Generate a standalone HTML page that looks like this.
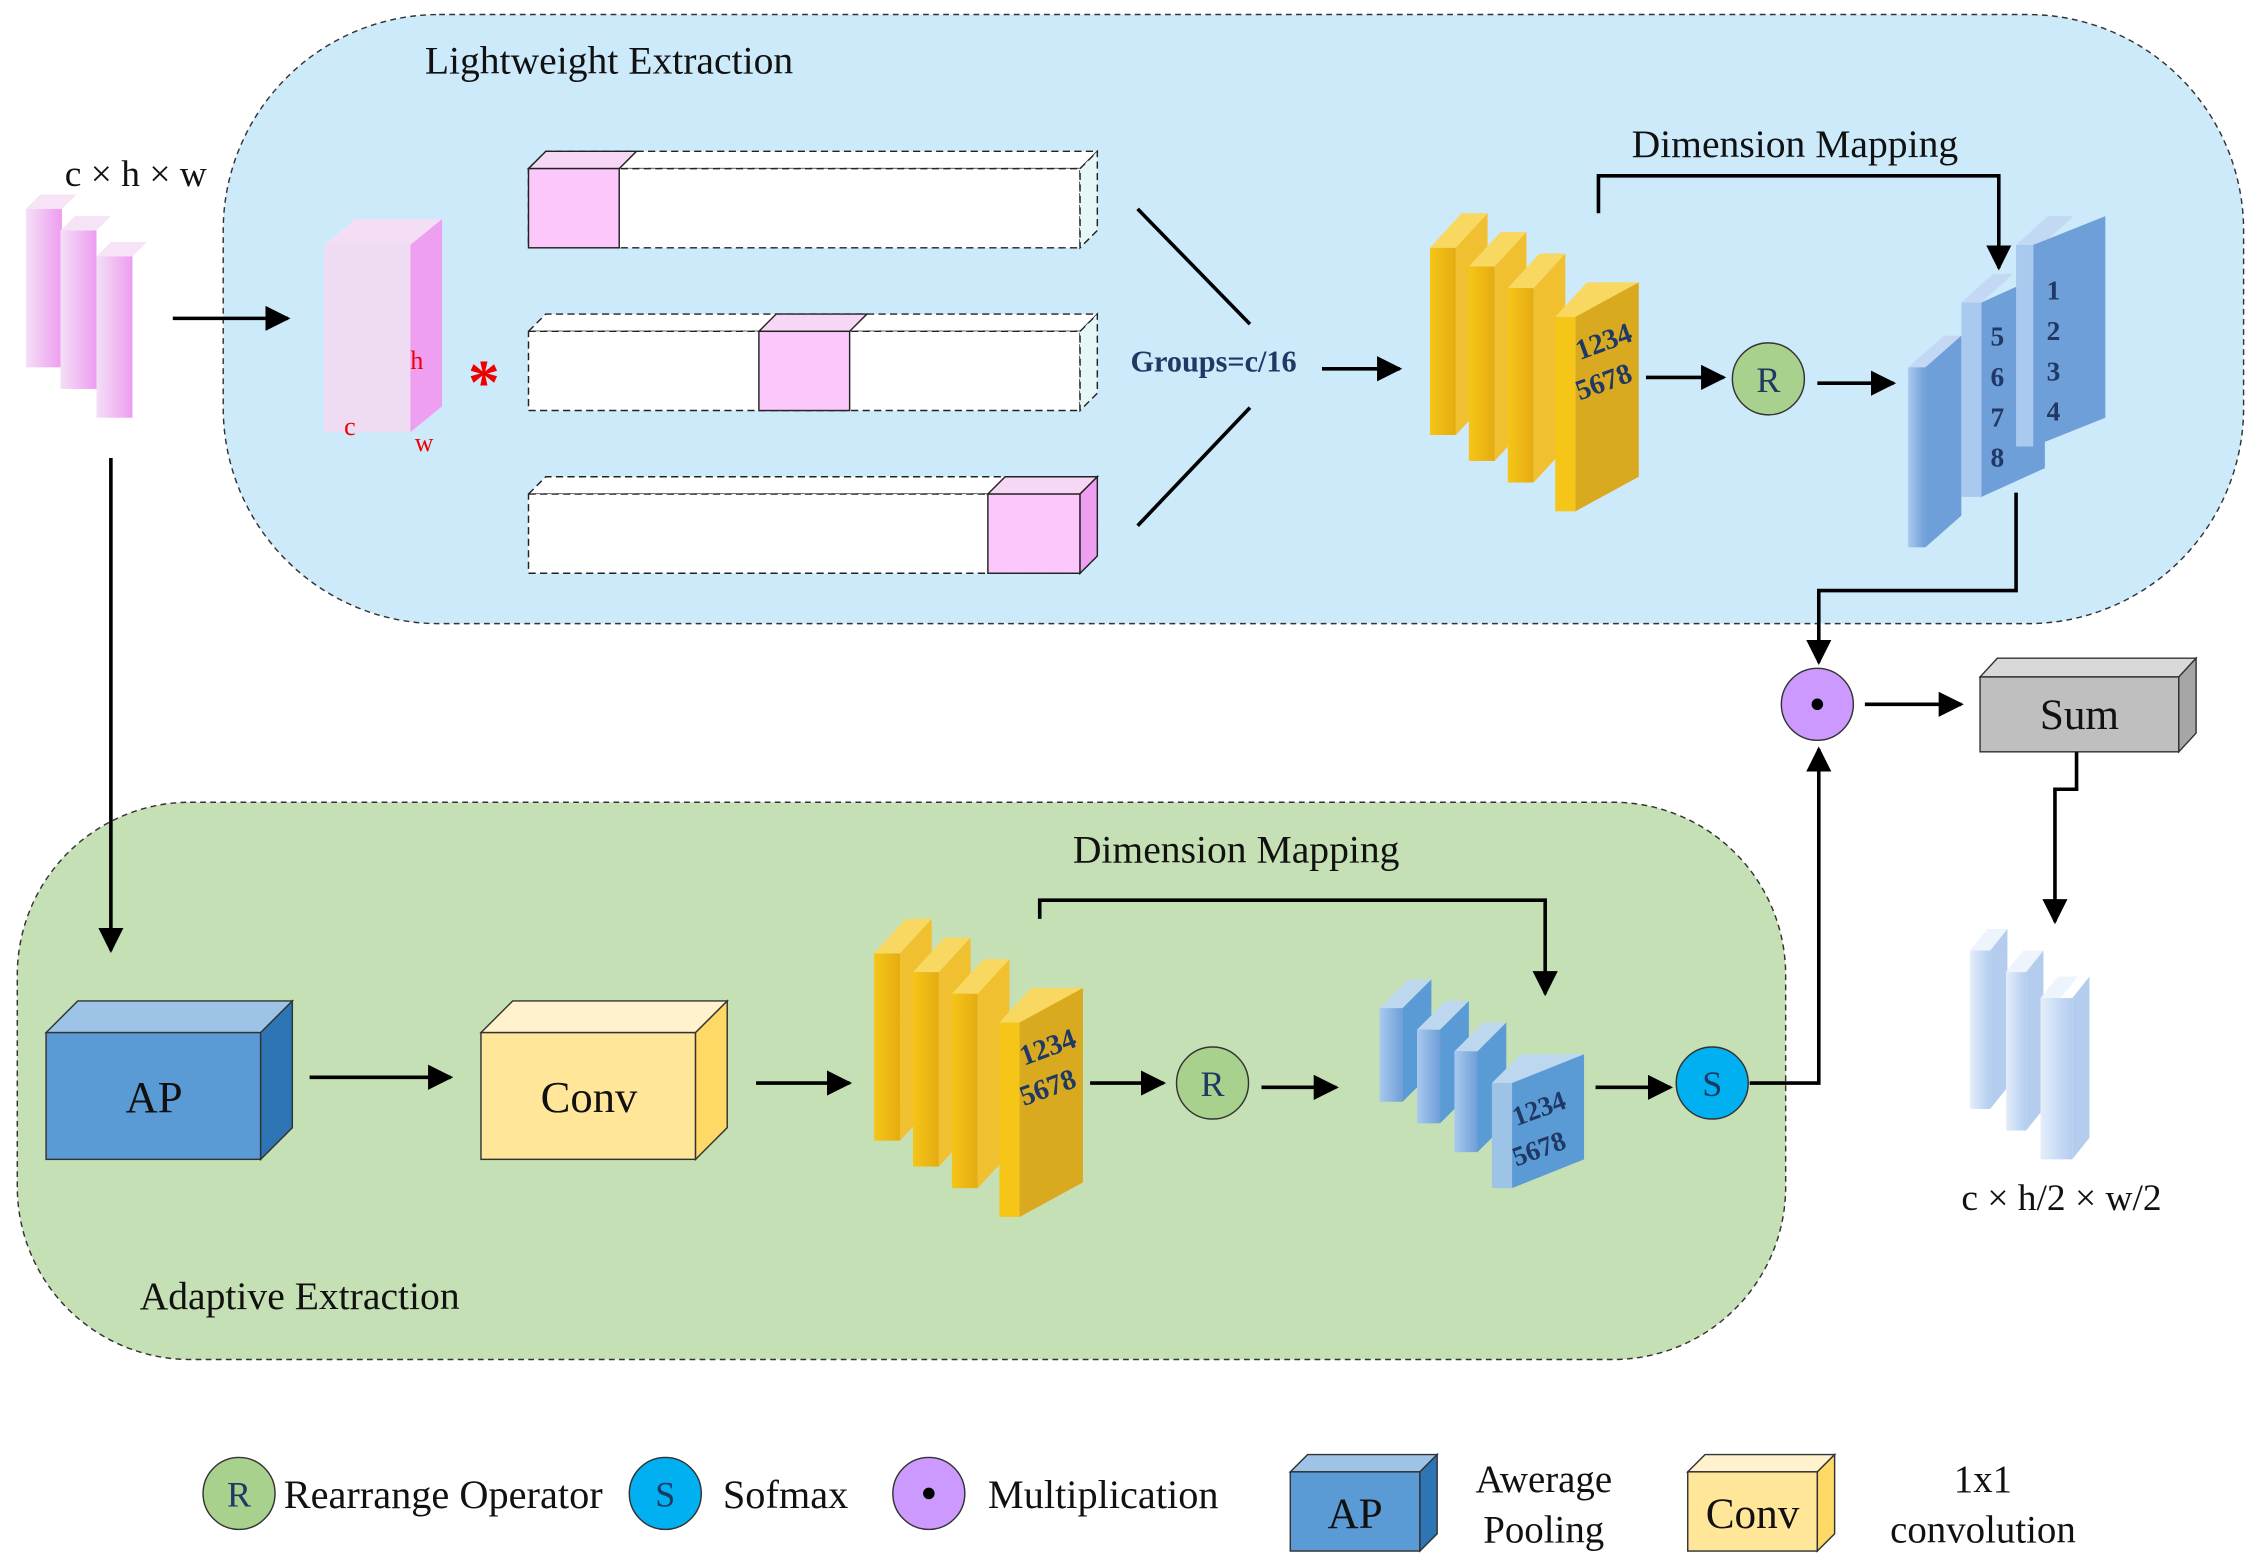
<!DOCTYPE html>
<html><head><meta charset="utf-8"><style>html,body{margin:0;padding:0;background:#fff}svg{display:block}</style></head>
<body>
<svg width="2258" height="1567" viewBox="0 0 1568 1088" xmlns="http://www.w3.org/2000/svg" font-family="Liberation Serif, serif">
<defs>
<marker id="a" viewBox="0 0 10 10" refX="9" refY="5" markerWidth="7" markerHeight="7" orient="auto-start-reverse"><path d="M0,0 L10,5 L0,10 z" fill="#000"/></marker>
<linearGradient id="pk" x1="0" x2="1"><stop offset="0" stop-color="#f3e0f6"/><stop offset="1" stop-color="#ee9cf0"/></linearGradient>
<linearGradient id="yl" x1="0" x2="1"><stop offset="0" stop-color="#f5c518"/><stop offset="1" stop-color="#e5ac10"/></linearGradient>
<linearGradient id="bl" x1="0" x2="1"><stop offset="0" stop-color="#a9c9ef"/><stop offset="1" stop-color="#6f9fd8"/></linearGradient>
<linearGradient id="lb" x1="0" x2="1"><stop offset="0" stop-color="#e4eefb"/><stop offset="1" stop-color="#b4cdef"/></linearGradient>
</defs>
<rect x="155" y="10" width="1403" height="423" rx="150" fill="#cdeafb" stroke="#333" stroke-dasharray="4,3"/>
<rect x="12" y="557" width="1228" height="387" rx="120" fill="#c5e0b4" stroke="#333" stroke-dasharray="4,3"/>
<g font-size="27.5" fill="#111">
<text x="295" y="51">Lightweight Extraction</text>
<text x="1133" y="109">Dimension Mapping</text>
<text x="745" y="599">Dimension Mapping</text>
<text x="97" y="909">Adaptive Extraction</text>
</g>
<g font-size="26" fill="#111">
<text x="45" y="129">c × h × w</text>
<text x="1362" y="840">c × h/2 × w/2</text>
</g>
<g>
<g><path d="M18,145 l10,-10 h25 l-10,10z" fill="#f6e3f6"/><rect x="18" y="145" width="25" height="110" fill="url(#pk)"/></g>
<g><path d="M42,160 l10,-10 h25 l-10,10z" fill="#f6e3f6"/><rect x="42" y="160" width="25" height="110" fill="url(#pk)"/></g>
<g><path d="M67,178 l10,-10 h25 l-10,10z" fill="#f6e3f6"/><rect x="67" y="178" width="25" height="112" fill="url(#pk)"/></g>
</g>
<line x1="120" y1="221" x2="200" y2="221" stroke="#000" stroke-width="2.5" marker-end="url(#a)"/>
<path d="M225,170 l22,-18 h60 l-22,18z" fill="#f3def5"/>
<rect x="225" y="170" width="60" height="130" fill="#efdcf3"/>
<path d="M285,170 l22,-18 v130 l-22,18z" fill="#ee9ff0"/>
<text x="285" y="256" font-size="18" fill="#e00">h</text>
<text x="239" y="302" font-size="18" fill="#e00">c</text>
<text x="288" y="313" font-size="18" fill="#e00">w</text>
<text x="325" y="280" font-size="44" fill="#e00" font-weight="bold">*</text>
<g stroke="#222" stroke-dasharray="5,3" fill="#fff">
<path d="M367,117 l12,-12 h383 l-12,12z"/><rect x="367" y="117" width="383" height="55"/><path d="M750,117 l12,-12 v55 l-12,12z" fill="#e6f7f7"/>
<path d="M367,230 l12,-12 h383 l-12,12z"/><rect x="367" y="230" width="383" height="55"/><path d="M750,230 l12,-12 v55 l-12,12z" fill="#e6f7f7"/>
<path d="M367,343 l12,-12 h383 l-12,12z"/><rect x="367" y="343" width="383" height="55"/><path d="M750,343 l12,-12 v55 l-12,12z" fill="#e6f7f7"/>
</g>
<g stroke="#222">
<path d="M367,117 l12,-12 h63 l-12,12z" fill="#f6d8f6"/><rect x="367" y="117" width="63" height="55" fill="#fcc8fc"/>
<path d="M527,230 l12,-12 h63 l-12,12z" fill="#f6d8f6"/><rect x="527" y="230" width="63" height="55" fill="#fcc8fc"/>
<path d="M686,343 l12,-12 h64 l-12,12z" fill="#f6d8f6"/><rect x="686" y="343" width="64" height="55" fill="#fcc8fc"/><path d="M750,343 l12,-12 v55 l-12,12z" fill="#ee9ff0"/>
</g>
<line x1="790" y1="145" x2="868" y2="225" stroke="#000" stroke-width="2.5"/>
<line x1="790" y1="365" x2="868" y2="283" stroke="#000" stroke-width="2.5"/>
<text x="785" y="258" font-size="21" font-weight="bold" fill="#1f3864">Groups=c/16</text>
<line x1="918" y1="256" x2="972" y2="256" stroke="#000" stroke-width="2.5" marker-end="url(#a)"/>
<g>
<g><path d="M993,172 l22,-24 h18 l-22,24z" fill="#f8d860"/><rect x="993" y="172" width="18" height="130" fill="url(#yl)"/><path d="M1011,172 l22,-24 v130 l-22,24z" fill="#f0c030"/></g>
<g><path d="M1020,185 l22,-24 h18 l-22,24z" fill="#f8d860"/><rect x="1020" y="185" width="18" height="135" fill="url(#yl)"/><path d="M1038,185 l22,-24 v135 l-22,24z" fill="#f0c030"/></g>
<g><path d="M1047,200 l22,-24 h18 l-22,24z" fill="#f8d860"/><rect x="1047" y="200" width="18" height="135" fill="url(#yl)"/><path d="M1065,200 l22,-24 v135 l-22,24z" fill="#f0c030"/></g>
<g><path d="M1080,220 l22,-24 h36 l-22,24z" fill="#f8d860"/><rect x="1080" y="220" width="14" height="135" fill="#f5c518"/><path d="M1094,220 l44,-24 v135 l-44,24z" fill="#d9aa20"/></g>
<text x="1097" y="250" font-size="20" font-weight="bold" fill="#1f3864" transform="rotate(-20 1097 250)">1234</text>
<text x="1097" y="278" font-size="20" font-weight="bold" fill="#1f3864" transform="rotate(-20 1097 278)">5678</text>
</g>
<line x1="1143" y1="262" x2="1197" y2="262" stroke="#000" stroke-width="2.5" marker-end="url(#a)"/>
<circle cx="1228" cy="263" r="25" fill="#a9d18e" stroke="#333"/><text x="1228" y="272" font-size="25" text-anchor="middle" fill="#1f3864">R</text>
<line x1="1262" y1="266" x2="1315" y2="266" stroke="#000" stroke-width="2.5" marker-end="url(#a)"/>
<g>
<path d="M1325,255 l25,-22 h12 l-25,22z" fill="#c3d9f3"/><rect x="1325" y="255" width="12" height="125" fill="url(#bl)"/><path d="M1337,255 l25,-22 v125 l-25,22z" fill="#6f9fd8"/>
<path d="M1362,210 l22,-20 h14 l-22,20z" fill="#c3d9f3"/><rect x="1362" y="210" width="14" height="135" fill="#a9c9ef"/><path d="M1376,210 l44,-20 v135 l-44,20z" fill="#6f9fd8"/>
<path d="M1400,170 l22,-20 h18 l-22,20z" fill="#c3d9f3"/><rect x="1400" y="170" width="12" height="140" fill="#a9c9ef"/><path d="M1412,170 l50,-20 v140 l-50,20z" fill="#6f9fd8"/>
<g font-size="19" font-weight="bold" fill="#1f3864" text-anchor="middle">
<text x="1387" y="240">5</text><text x="1387" y="268">6</text><text x="1387" y="296">7</text><text x="1387" y="324">8</text>
<text x="1426" y="208">1</text><text x="1426" y="236">2</text><text x="1426" y="264">3</text><text x="1426" y="292">4</text>
</g>
</g>
<polyline points="1110,148 1110,122 1388,122 1388,186" fill="none" stroke="#000" stroke-width="2.5" marker-end="url(#a)"/>
<polyline points="1400,342 1400,410 1263,410 1263,460" fill="none" stroke="#000" stroke-width="2.5" marker-end="url(#a)"/>
<circle cx="1262" cy="489" r="25" fill="#cc99ff" stroke="#333"/><circle cx="1262" cy="489" r="4" fill="#000"/>
<line x1="1295" y1="489" x2="1362" y2="489" stroke="#000" stroke-width="2.5" marker-end="url(#a)"/>
<path d="M1375,470 l12,-13 h138 l-12,13z" fill="#d9d9d9" stroke="#333"/><rect x="1375" y="470" width="138" height="52" fill="#bfbfbf" stroke="#333"/><path d="M1513,470 l12,-13 v52 l-12,13z" fill="#a6a6a6" stroke="#333"/>
<text x="1444" y="506" font-size="30" text-anchor="middle" fill="#111">Sum</text>
<polyline points="1442,522 1442,548 1427,548 1427,640" fill="none" stroke="#000" stroke-width="2.5" marker-end="url(#a)"/>
<g>
<path d="M1368,660 l12,-15 h14 l-12,15z" fill="#eef4fc"/><rect x="1368" y="660" width="14" height="110" fill="url(#lb)"/><path d="M1382,660 l12,-15 v110 l-12,15z" fill="#b4cdef"/>
<path d="M1393,675 l12,-15 h14 l-12,15z" fill="#eef4fc"/><rect x="1393" y="675" width="14" height="110" fill="url(#lb)"/><path d="M1407,675 l12,-15 v110 l-12,15z" fill="#b4cdef"/>
<path d="M1417,693 l12,-15 h14 l-12,15z" fill="#eef4fc"/><rect x="1417" y="693" width="22" height="112" fill="url(#lb)"/><path d="M1439,693 l12,-15 v112 l-12,15z" fill="#b4cdef"/>
</g>
<line x1="77" y1="318" x2="77" y2="660" stroke="#000" stroke-width="2.5" marker-end="url(#a)"/>
<path d="M32,717 l22,-22 h149 l-22,22z" fill="#9dc3e6" stroke="#333"/><rect x="32" y="717" width="149" height="88" fill="#5b9bd5" stroke="#333"/><path d="M181,717 l22,-22 v88 l-22,22z" fill="#2e75b6" stroke="#333"/>
<text x="107" y="772" font-size="31" text-anchor="middle" fill="#111">AP</text>
<line x1="215" y1="748" x2="313" y2="748" stroke="#000" stroke-width="2.5" marker-end="url(#a)"/>
<path d="M334,717 l22,-22 h149 l-22,22z" fill="#fff2cc" stroke="#333"/><rect x="334" y="717" width="149" height="88" fill="#ffe699" stroke="#333"/><path d="M483,717 l22,-22 v88 l-22,22z" fill="#ffd966" stroke="#333"/>
<text x="409" y="772" font-size="31" text-anchor="middle" fill="#111">Conv</text>
<line x1="525" y1="752" x2="590" y2="752" stroke="#000" stroke-width="2.5" marker-end="url(#a)"/>
<g>
<g><path d="M607,662 l22,-24 h18 l-22,24z" fill="#f8d860"/><rect x="607" y="662" width="18" height="130" fill="url(#yl)"/><path d="M625,662 l22,-24 v130 l-22,24z" fill="#f0c030"/></g>
<g><path d="M634,675 l22,-24 h18 l-22,24z" fill="#f8d860"/><rect x="634" y="675" width="18" height="135" fill="url(#yl)"/><path d="M652,675 l22,-24 v135 l-22,24z" fill="#f0c030"/></g>
<g><path d="M661,690 l22,-24 h18 l-22,24z" fill="#f8d860"/><rect x="661" y="690" width="18" height="135" fill="url(#yl)"/><path d="M679,690 l22,-24 v135 l-22,24z" fill="#f0c030"/></g>
<g><path d="M694,710 l22,-24 h36 l-22,24z" fill="#f8d860"/><rect x="694" y="710" width="14" height="135" fill="#f5c518"/><path d="M708,710 l44,-24 v135 l-44,24z" fill="#d9aa20"/></g>
<text x="711" y="740" font-size="20" font-weight="bold" fill="#1f3864" transform="rotate(-20 711 740)">1234</text>
<text x="711" y="768" font-size="20" font-weight="bold" fill="#1f3864" transform="rotate(-20 711 768)">5678</text>
</g>
<line x1="757" y1="752" x2="808" y2="752" stroke="#000" stroke-width="2.5" marker-end="url(#a)"/>
<circle cx="842" cy="752" r="25" fill="#a9d18e" stroke="#333"/><text x="842" y="761" font-size="25" text-anchor="middle" fill="#1f3864">R</text>
<line x1="876" y1="755" x2="928" y2="755" stroke="#000" stroke-width="2.5" marker-end="url(#a)"/>
<g>
<g><path d="M958,700 l20,-20 h16 l-20,20z" fill="#bdd7ee"/><rect x="958" y="700" width="16" height="65" fill="url(#bl)"/><path d="M974,700 l20,-20 v65 l-20,20z" fill="#5b9bd5"/></g>
<g><path d="M984,715 l20,-20 h16 l-20,20z" fill="#bdd7ee"/><rect x="984" y="715" width="16" height="65" fill="url(#bl)"/><path d="M1000,715 l20,-20 v65 l-20,20z" fill="#5b9bd5"/></g>
<g><path d="M1010,730 l20,-20 h16 l-20,20z" fill="#bdd7ee"/><rect x="1010" y="730" width="16" height="70" fill="url(#bl)"/><path d="M1026,730 l20,-20 v70 l-20,20z" fill="#5b9bd5"/></g>
<g><path d="M1036,752 l20,-20 h44 l-20,20z" fill="#bdd7ee"/><rect x="1036" y="752" width="14" height="73" fill="#9dc3e6"/><path d="M1050,752 l50,-20 v73 l-50,20z" fill="#5b9bd5"/></g>
<text x="1053" y="782" font-size="19" font-weight="bold" fill="#1f3864" transform="rotate(-20 1053 782)">1234</text>
<text x="1053" y="810" font-size="19" font-weight="bold" fill="#1f3864" transform="rotate(-20 1053 810)">5678</text>
</g>
<polyline points="722,638 722,625 1073,625 1073,690" fill="none" stroke="#000" stroke-width="2.5" marker-end="url(#a)"/>
<line x1="1108" y1="755" x2="1160" y2="755" stroke="#000" stroke-width="2.5" marker-end="url(#a)"/>
<circle cx="1189" cy="752" r="25" fill="#00b0f0" stroke="#333"/><text x="1189" y="761" font-size="25" text-anchor="middle" fill="#1f3864">S</text>
<polyline points="1215,752 1263,752 1263,520" fill="none" stroke="#000" stroke-width="2.5" marker-end="url(#a)"/>
<circle cx="166" cy="1037" r="25" fill="#a9d18e" stroke="#333"/><text x="166" y="1046" font-size="25" text-anchor="middle" fill="#1f3864">R</text>
<text x="197" y="1047" font-size="28" fill="#111">Rearrange Operator</text>
<circle cx="462" cy="1037" r="25" fill="#00b0f0" stroke="#333"/><text x="462" y="1046" font-size="25" text-anchor="middle" fill="#1f3864">S</text>
<text x="502" y="1047" font-size="28" fill="#111">Sofmax</text>
<circle cx="645" cy="1037" r="25" fill="#cc99ff" stroke="#333"/><circle cx="645" cy="1037" r="4" fill="#000"/>
<text x="686" y="1047" font-size="28" fill="#111">Multiplication</text>
<path d="M896,1022 l12,-12 h90 l-12,12z" fill="#9dc3e6" stroke="#333"/><rect x="896" y="1022" width="90" height="55" fill="#5b9bd5" stroke="#333"/><path d="M986,1022 l12,-12 v55 l-12,12z" fill="#2e75b6" stroke="#333"/>
<text x="941" y="1061" font-size="30" text-anchor="middle" fill="#111">AP</text>
<text x="1072" y="1036" font-size="27" text-anchor="middle" fill="#111">Awerage</text>
<text x="1072" y="1071" font-size="27" text-anchor="middle" fill="#111">Pooling</text>
<path d="M1172,1022 l12,-12 h90 l-12,12z" fill="#fff2cc" stroke="#333"/><rect x="1172" y="1022" width="90" height="55" fill="#ffe699" stroke="#333"/><path d="M1262,1022 l12,-12 v55 l-12,12z" fill="#ffd966" stroke="#333"/>
<text x="1217" y="1061" font-size="30" text-anchor="middle" fill="#111">Conv</text>
<text x="1377" y="1036" font-size="27" text-anchor="middle" fill="#111">1x1</text>
<text x="1377" y="1071" font-size="27" text-anchor="middle" fill="#111">convolution</text>
</svg>
</body></html>
